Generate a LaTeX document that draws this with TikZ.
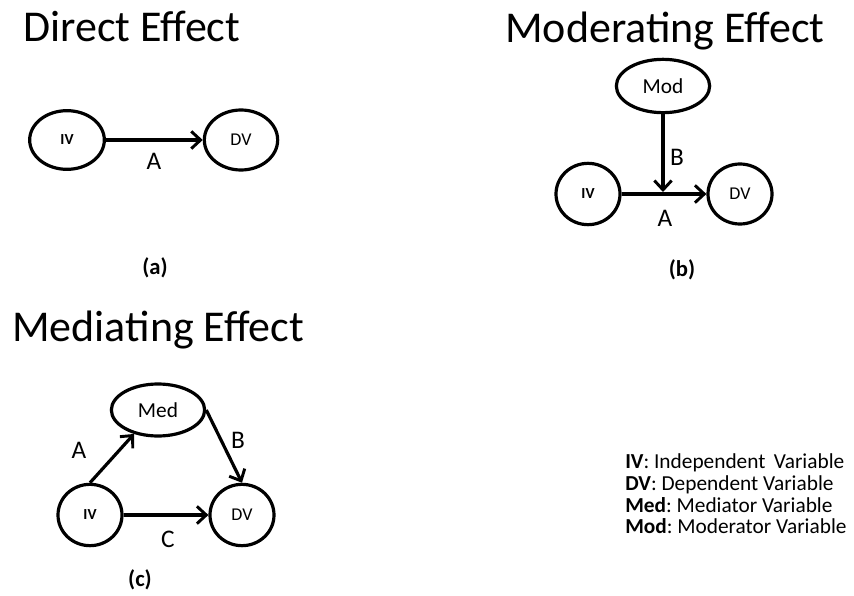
\documentclass[tikz,border=0pt]{standalone}
\usepackage{fontspec}
\setmainfont{Carlito}
\frenchspacing
\usetikzlibrary{shapes.geometric,arrows.meta}
\tikzset{
  var/.style={ellipse, draw, line width=2.4pt, inner sep=0pt},
  link/.style={line width=2.4pt, -{Straight Barb[length=7pt,width=13pt,line width=2.2pt]}},
  heading/.style={anchor=base west, inner sep=0pt, font=\fontsize{33}{36}\selectfont},
  lbl/.style={inner sep=0pt, font=\fontsize{19}{22}\selectfont},
  subcap/.style={inner sep=0pt, font=\bfseries\fontsize{17}{20}\selectfont},
  legend/.style={anchor=base west, inner sep=0pt, font=\fontsize{16}{19}\selectfont},
  ivtext/.style={font=\bfseries\fontsize{11.5}{12}\selectfont},
  dvtext/.style={font=\fontsize{13.5}{14}\selectfont},
  bigtext/.style={font=\fontsize{16}{17}\selectfont}
}
\begin{document}
\begin{tikzpicture}[x=0.75pt, y=-0.75pt]
\useasboundingbox (0,0) rectangle (854,596);

% (a) direct effect
\node[heading] (ta) at (23,41) {Direct Effect};
\node[var, ivtext, minimum width=56pt, minimum height=44pt] (aiv) at (67,140) {IV};
\node[var, dvtext, minimum width=55pt, minimum height=45pt] (adv) at (241,140) {DV};
\draw[link] (aiv) -- (adv);
\node[lbl] (la) at (154,161) {A};
\node[subcap] (ca) at (155,268) {(a)};

% (b) moderating effect
\node[heading] (tb) at (505,42) {Moderating Effect};
\node[var, bigtext, minimum width=70pt, minimum height=40pt] (bmod) at (663,86) {Mod};
\node[var, ivtext, minimum width=48pt, minimum height=46pt] (biv) at (588,194) {IV};
\node[var, dvtext, minimum width=48pt, minimum height=45pt] (bdv) at (740,194) {DV};
\draw[link] (biv) -- (bdv);
\coordinate (bmid) at (663,192);
\draw[link] (bmod) -- (bmid);
\node[lbl] (lbb) at (677,157) {B};
\node[lbl] (lba) at (665,218) {A};
\node[subcap] (cb) at (682,270) {(b)};

% (c) mediating effect
\node[heading] (tc) at (12,341) {Mediating Effect};
\node[var, bigtext, minimum width=70pt, minimum height=39pt] (cmed) at (158,410) {Med};
\node[var, ivtext, minimum width=48pt, minimum height=46pt] (civ) at (90,515) {IV};
\node[var, dvtext, minimum width=48pt, minimum height=46pt] (cdv) at (242,515) {DV};
\draw[link] (civ.north) -- (cmed.225);
\draw[link] (cmed.east) -- (cdv.north);
\draw[link] (civ) -- (cdv);
\node[lbl] (lca) at (79,450) {A};
\node[lbl] (lcb) at (238,440) {B};
\node[lbl] (lcc) at (168,539) {C};
\node[subcap] (cc) at (140,580) {(c)};

% legend
\node[legend] (k1) at (625,468) {\textbf{IV}: Independent\, Variable};
\node[legend] (k2) at (625,490) {\textbf{DV}: Dependent Variable};
\node[legend] (k3) at (625,512) {\textbf{Med}: Mediator Variable};
\node[legend] (k4) at (625,533) {\textbf{Mod}: Moderator Variable};
\end{tikzpicture}
\end{document}
